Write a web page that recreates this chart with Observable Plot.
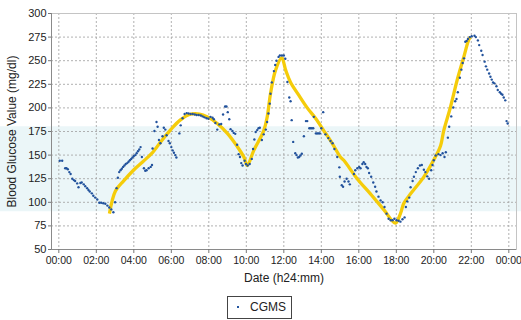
<!DOCTYPE html>
<html><head><meta charset="utf-8">
<script src="https://cdn.jsdelivr.net/npm/d3@7"></script>
<script src="https://cdn.jsdelivr.net/npm/@observablehq/plot@0.6"></script>
<style>
body{margin:0;background:#fff;font-family:"Liberation Sans",Arial,sans-serif;}
#wrap{position:relative;width:521px;height:320px;overflow:hidden;}
#legend{position:absolute;left:227px;top:296px;width:63px;height:21px;border:1px solid #444;background:#fff;font-size:12px;color:#222;}
#legend .dot{position:absolute;left:9px;top:9px;width:2px;height:2px;background:#24559f;}
#legend .lab{position:absolute;left:22px;top:3px;}
</style></head><body><div id="wrap"></div>
<script>
// CGMS readings: time of day (hours) and glucose (mg/dl)
const cgmsHours = [0.05,0.18,0.34,0.41,0.48,0.56,0.63,0.72,0.8,0.87,0.98,1.05,1.15,1.22,1.33,1.41,1.51,1.58,1.65,1.76,1.84,1.94,2.05,2.16,2.26,2.37,2.48,2.59,2.69,2.8,2.91,3.0,3.08,3.15,3.22,3.29,3.36,3.43,3.5,3.57,3.65,3.72,3.79,3.86,3.93,4.0,4.08,4.15,4.22,4.29,4.36,4.43,4.54,4.61,4.68,4.79,4.9,4.97,5.0,5.1,5.21,5.27,5.34,5.42,5.53,5.6,5.68,5.75,5.85,5.92,6.0,6.07,6.14,6.21,6.27,6.43,6.5,6.6,6.71,6.82,6.92,7.03,7.14,7.25,7.35,7.46,7.57,7.67,7.77,7.88,7.98,8.09,8.2,8.27,8.35,8.45,8.56,8.66,8.76,8.87,8.94,9.01,9.09,9.16,9.26,9.33,9.41,9.51,9.59,9.66,9.73,9.8,9.91,9.98,10.07,10.18,10.29,10.36,10.43,10.5,10.58,10.65,10.72,10.83,10.93,11.04,11.11,11.18,11.25,11.29,11.36,11.47,11.54,11.61,11.72,11.79,11.9,12.0,12.08,12.19,12.29,12.36,12.42,12.5,12.61,12.68,12.75,12.82,12.89,12.96,13.07,13.18,13.25,13.36,13.43,13.5,13.57,13.6,13.71,13.78,13.85,13.92,14.0,14.1,14.22,14.37,14.49,14.6,14.7,14.85,14.96,14.99,15.09,15.16,15.24,15.35,15.45,15.52,15.74,15.81,15.92,16.02,16.09,16.19,16.26,16.34,16.41,16.48,16.55,16.66,16.77,16.87,16.94,17.05,17.16,17.27,17.37,17.48,17.59,17.7,17.8,17.9,18.01,18.12,18.22,18.33,18.44,18.51,18.58,18.69,18.76,18.87,18.94,19.04,19.15,19.26,19.36,19.47,19.55,19.65,19.75,19.86,19.93,20.0,20.1,20.25,20.36,20.47,20.57,20.64,20.75,20.82,20.93,21.04,21.14,21.21,21.28,21.39,21.47,21.54,21.61,21.68,21.75,21.82,21.92,22.02,22.17,22.24,22.35,22.42,22.53,22.6,22.71,22.78,22.85,22.95,23.02,23.09,23.16,23.23,23.34,23.41,23.52,23.59,23.66,23.73,23.81,23.88,23.94];
const cgmsValues = [144,144,136,136,135,132,130,125,123.5,122.5,120,116,120.5,121,119,117,115,113,111.5,109.5,107,105,103,99.5,99.5,99,98.5,96.5,94.5,92.5,89.5,100,115,126,132,134,135.5,137.5,139,140.5,141.5,143,144.5,146,147.5,149,150,152,154,156,158.5,148,136,133.5,134,136,137.5,139.5,157,175.5,185,180,166,162.5,170,179,177,171,165,162.5,158.5,155,152.5,150,147.5,173,181.5,189,193.5,194.5,194,193.5,193.5,193,192.5,192.5,192,191,190,189,188.5,190.5,189.5,188,184,177,182.5,183,193,201.5,201.5,195.5,188,177.5,175.5,173.5,172.5,161,151,148,141.5,139,144,140.5,139,140.5,146,156.5,166.5,174.5,176.5,178.5,179,166,172,177,185,194,204.5,215,227,239,245.5,250,254,255.5,255.5,255.5,252,227.5,211,207,187,164,152,150,147.5,148,149.5,151.5,170,186,186,178.5,178.5,178.5,178.5,190.5,173,173,173,173,178.5,195.5,172,168,165,162.5,156.5,148,137,127,118,116.5,122,125,122,119,130,134,136,137.5,136,140.5,142.5,140.5,137.5,136,131,127,121,116.5,111.5,106,102,100,95,88,82.5,81,81,82.5,81,80.5,79.5,82,84,95,101,105,116,122.5,127,132,136,139,139.5,134.5,132,127.5,125,134,139.5,144.5,149.5,151,150,152,148,153,168.5,180,191,200.5,207,209.5,216.5,232,240.5,247.5,252.5,270,271,273,275,276,276.5,275,271.5,266.5,260.5,256,249,244,240.5,236.5,233,230,227,226,223,219,216.5,215,214,211,208,186,183.5];
// reference (yellow) curve
const refHours = [2.7,3.02,3.47,3.98,4.48,4.97,5.47,5.97,6.47,6.97,7.5,7.93,8.45,8.99,9.52,9.87,10.05,10.4,10.93,11.11,11.29,11.56,11.89,12.1,12.35,12.78,13.25,13.69,14.13,14.58,15.02,15.2,15.91,16.62,17.34,17.95,18.22,18.4,18.76,19.47,20.0,20.36,20.53,20.89,21.24,21.6,21.86,21.95];
const refValues = [88,112,123,134,143,152,165,177,187,193,193.5,190.5,183.5,173,159,148,139,155,176,190,215,240,253,240,227.5,214,200,189,176,162.5,148,144.5,125,109,92,78,88,99,109,127,145,160,176,201,229,254,272,275];
// target band (mg/dl)
const bandLow = [90];
const bandHigh = [180];
const xTicks = [0,2,4,6,8,10,12,14,16,18,20,22,24];
const yTicks = [50,75,100,125,150,175,200,225,250,275,300];
const xDomain = [-0.39, 24.41];
const yDomain = [50, 300];

const cgms = cgmsHours.map((h, i) => ({h, v: cgmsValues[i]}));
const ref = refHours.map((h, i) => ({h, v: refValues[i]}));
const band = bandLow.map((lo, i) => ({lo, hi: bandHigh[i]}));
const fmt = h => String(h % 24).padStart(2, "0") + ":00";

const chart = Plot.plot({
  width: 521, height: 296,
  marginLeft: 51, marginRight: 5, marginTop: 13, marginBottom: 47,
  style: {fontFamily: "'Liberation Sans', Arial, sans-serif", fontSize: "10.5px", color: "#222", background: "transparent", overflow: "visible"},
  x: {domain: xDomain},
  y: {domain: yDomain},
  marks: [
    Plot.rect(band, {x1: -4, x2: 28, y1: "lo", y2: "hi", fill: "#ebf6f8"}),
    Plot.gridX(xTicks, {stroke: "#a8a8a8", strokeOpacity: 1, strokeDasharray: "2,2", strokeWidth: 0.9}),
    Plot.gridY(yTicks, {stroke: "#a8a8a8", strokeOpacity: 1, strokeDasharray: "2,2", strokeWidth: 0.9}),
    Plot.frame({stroke: "#c4c4c4"}),
    Plot.line(ref, {x: "h", y: "v", stroke: "#f5cc0a", strokeWidth: 3.3, curve: "catmull-rom", strokeLinejoin: "round", strokeLinecap: "butt"}),
    Plot.dot(cgms, {x: "h", y: "v", r: 1.2, fill: "#22529c", stroke: null}),
    Plot.ruleX([xDomain[0]], {stroke: "#8a8a8a"}),
    Plot.ruleY([yDomain[0]], {stroke: "#8a8a8a"}),
    Plot.axisX(xTicks, {tickFormat: fmt, tickSize: 4, tickPadding: 3, stroke: "#777", label: null}),
    Plot.axisY(yTicks, {tickSize: 3, tickPadding: 2, stroke: "#777", label: null, fontSize: 11}),
    Plot.text(["Date (h24:mm)"], {frameAnchor: "bottom", dy: 32, fontSize: 12, fill: "#222"}),
    Plot.text(["Blood Glucose Value (mg/dl)"], {frameAnchor: "left", dx: -39, rotate: -90, textAnchor: "middle", fontSize: 12, fill: "#222"})
  ]
});
const wrap = document.getElementById("wrap");
wrap.appendChild(chart);
const lg = document.createElement("div");
lg.id = "legend";
lg.innerHTML = '<span class="dot"></span><span class="lab">CGMS</span>';
wrap.appendChild(lg);
</script>
</body></html>
